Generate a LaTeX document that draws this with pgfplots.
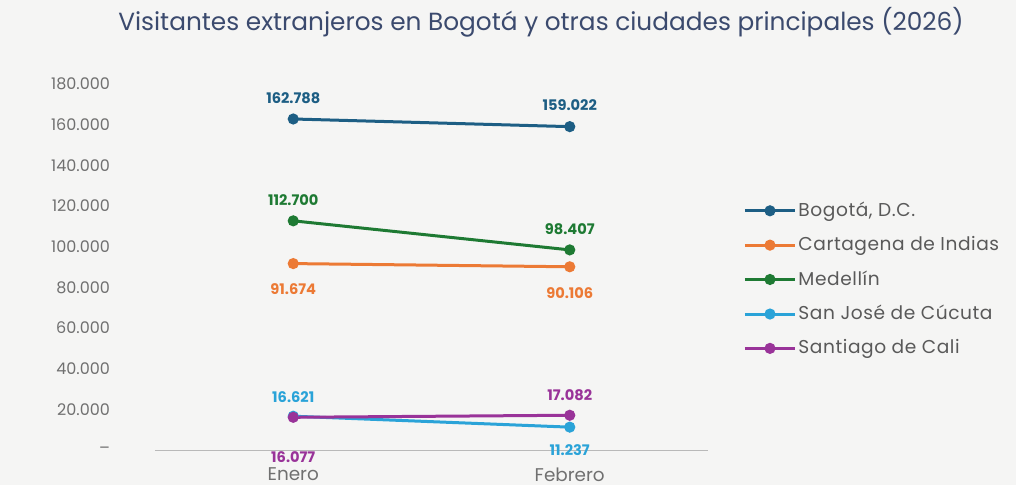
\documentclass[border=0pt]{standalone}
\usepackage{fontspec}
\setmainfont{Poppins}
\usepackage{pgfplots}
\pgfplotsset{compat=1.18}
\definecolor{bgc}{HTML}{F5F5F4}
\definecolor{titc}{HTML}{3B4A6E}
\definecolor{tickc}{HTML}{707070}
\definecolor{legc}{HTML}{595959}
\definecolor{cbog}{HTML}{1D5E84}
\definecolor{ccar}{HTML}{EC7A35}
\definecolor{cmed}{HTML}{1E7A33}
\definecolor{ccuc}{HTML}{2AA3D8}
\definecolor{ccal}{HTML}{993399}
\begin{document}
\begin{tikzpicture}
\fill[bgc] (0,0) rectangle (508pt,242.5pt);
\node[font=\fontsize{12.4}{14}\selectfont, text=titc] at (270.5pt,231.5pt) {Visitantes extranjeros en Bogotá y otras ciudades principales (2026)};
\begin{axis}[
  at={(77.5pt,17.5pt)}, anchor=south west,
  scale only axis, width=276.5pt, height=183pt,
  xmin=-0.5, xmax=1.5, ymin=0, ymax=180000,
  scaled y ticks=false,
  xtick={0,1}, xticklabels={Enero,Febrero},
  ytick={0,20000,40000,60000,80000,100000,120000,140000,160000,180000},
  yticklabels={--,20.000,40.000,60.000,80.000,100.000,120.000,140.000,160.000,180.000},
  major tick length=0pt,
  axis x line=bottom, axis y line=left,
  axis line style={-},
  x axis line style={draw=gray!55},
  y axis line style={draw=none},
  ticklabel style={text=tickc},
  yticklabel style={xshift=-19pt, font=\fontsize{8}{9}\selectfont},
  xticklabel style={yshift=-5.5pt, font=\fontsize{9.2}{10}\selectfont},
  clip=false,
  every axis plot/.append style={line width=1.5pt, mark=*, mark size=2pt},
  nodes near coords, point meta=explicit symbolic,
  visualization depends on={\thisrow{dy} \as \dy},
  every node near coord/.append style={anchor=center, yshift=\dy pt, font=\fontsize{7.3}{8}\selectfont\bfseries},
  legend style={at={(1.0526,0.695)}, anchor=north west, draw=none, fill=none,
    font=\fontsize{9.3}{10}\selectfont\addfontfeatures{LetterSpace=3}, text=legc, row sep=6.5pt, nodes={inner sep=1pt}},
  legend cell align=left,
  legend image code/.code={\draw[#1, mark repeat=2, mark phase=2] plot coordinates {(0pt,0pt)(12.5pt,0pt)(25pt,0pt)};},
]
\addplot[color=cbog, every node near coord/.append style={text=cbog}] table[meta=lab] {
x y lab dy
0 162788 162.788 10.5
1 159022 159.022 10.8
};
\addlegendentry{Bogotá, D.C.}
\addplot[color=ccar, every node near coord/.append style={text=ccar}] table[meta=lab] {
x y lab dy
0 91674 91.674 -12.7
1 90106 90.106 -13
};
\addlegendentry{Cartagena de Indias}
\addplot[color=cmed, every node near coord/.append style={text=cmed}] table[meta=lab] {
x y lab dy
0 112700 112.700 10.4
1 98407 98.407 10.5
};
\addlegendentry{Medellín}
\addplot[color=ccuc, every node near coord/.append style={text=ccuc}] table[meta=lab] {
x y lab dy
0 16621 16.621 9.6
1 11237 11.237 -11.4
};
\addlegendentry{San José de Cúcuta}
\addplot[color=ccal, every node near coord/.append style={text=ccal}] table[meta=lab] {
x y lab dy
0 16077 16.077 -20
1 17082 17.082 10
};
\addlegendentry{Santiago de Cali}
\end{axis}
\end{tikzpicture}
\end{document}
